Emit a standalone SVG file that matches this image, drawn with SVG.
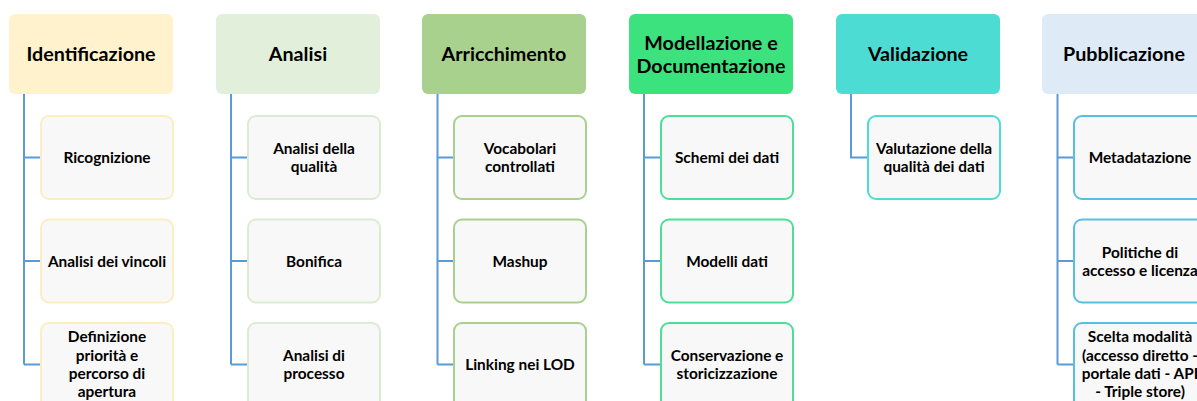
<svg xmlns="http://www.w3.org/2000/svg" width="1197" height="401" viewBox="0 0 1197 401">
<style>
text{font-family:Lato,"Liberation Sans",sans-serif;font-weight:bold;fill:#000;text-anchor:middle}
.h{font-size:19.7px}
.c{font-size:15.4px}
.hb{stroke:none}
.cb{fill:#f8f8f8;stroke-width:2}
.con{fill:none;stroke:#5b9bd5;stroke-width:2}
</style>
<rect width="1197" height="401" fill="#fff"/>
<g id="connectors" class="con">
<path d="M24 94V364.5M24 157.5H41M24 261H41M24 364.5H41"/>
<path d="M231 94V364.5M231 157.5H248M231 261H248M231 364.5H248"/>
<path d="M437.5 94V364.5M437.5 157.5H454M437.5 261H454M437.5 364.5H454"/>
<path d="M644 94V364.5M644 157.5H661M644 261H661M644 364.5H661"/>
<path d="M851 94V157.5H868"/>
<path d="M1057.5 94V364.5M1057.5 157.5H1074M1057.5 261H1074M1057.5 364.5H1074"/>
</g>
<g id="identificazione">
<rect class="hb" x="9" y="14" width="164" height="80" rx="6" fill="#fff2cc"/>
<text class="h" x="91" y="61">Identificazione</text>
</g>
<g id="ricognizione"><rect class="cb" x="41" y="116" width="132" height="83" rx="8" stroke="#fcedc3"/><text class="c" x="107" y="163">Ricognizione</text></g>
<g id="vincoli"><rect class="cb" x="41" y="219.5" width="132" height="83" rx="8" stroke="#fcedc3"/><text class="c" x="107" y="266.5">Analisi dei vincoli</text></g>
<g id="priorita"><rect class="cb" x="41" y="323" width="132" height="90" rx="8" stroke="#fcedc3"/><text class="c" x="107" y="342">Definizione</text><text class="c" x="107" y="360.5">priorità e</text><text class="c" x="107" y="378.5">percorso di</text><text class="c" x="107" y="396.5">apertura</text></g>

<g id="analisi">
<rect class="hb" x="216" y="14" width="164" height="80" rx="6" fill="#e2efda"/>
<text class="h" x="298" y="61">Analisi</text>
</g>
<g id="qualita"><rect class="cb" x="248" y="116" width="132" height="83" rx="8" stroke="#dcecd2"/><text class="c" x="314" y="153.5">Analisi della</text><text class="c" x="314" y="171.5">qualità</text></g>
<g id="bonifica"><rect class="cb" x="248" y="219.5" width="132" height="83" rx="8" stroke="#dcecd2"/><text class="c" x="314" y="266.5">Bonifica</text></g>
<g id="processo"><rect class="cb" x="248" y="323" width="132" height="90" rx="8" stroke="#dcecd2"/><text class="c" x="314" y="361">Analisi di</text><text class="c" x="314" y="379">processo</text></g>

<g id="arricchimento">
<rect class="hb" x="422" y="14" width="164" height="80" rx="6" fill="#a9d18e"/>
<text class="h" x="504" y="61">Arricchimento</text>
</g>
<g id="vocabolari"><rect class="cb" x="454" y="116" width="132" height="83" rx="8" stroke="#a9d18e"/><text class="c" x="520" y="153.5">Vocabolari</text><text class="c" x="520" y="171.5">controllati</text></g>
<g id="mashup"><rect class="cb" x="454" y="219.5" width="132" height="83" rx="8" stroke="#a9d18e"/><text class="c" x="520" y="266.5">Mashup</text></g>
<g id="linking"><rect class="cb" x="454" y="323" width="132" height="90" rx="8" stroke="#a9d18e"/><text class="c" x="520" y="370">Linking nei LOD</text></g>

<g id="modellazione">
<rect class="hb" x="629" y="14" width="164" height="80" rx="6" fill="#3ce27e"/>
<text class="h" x="711" y="49.5">Modellazione e</text>
<text class="h" x="711" y="72.5">Documentazione</text>
</g>
<g id="schemi"><rect class="cb" x="661" y="116" width="132" height="83" rx="8" stroke="#4ddf95"/><text class="c" x="727" y="163">Schemi dei dati</text></g>
<g id="modelli"><rect class="cb" x="661" y="219.5" width="132" height="83" rx="8" stroke="#4ddf95"/><text class="c" x="727" y="266.5">Modelli dati</text></g>
<g id="conservazione"><rect class="cb" x="661" y="323" width="132" height="90" rx="8" stroke="#4ddf95"/><text class="c" x="727" y="361">Conservazione e</text><text class="c" x="727" y="379">storicizzazione</text></g>

<g id="validazione">
<rect class="hb" x="836" y="14" width="164" height="80" rx="6" fill="#4ddcd3"/>
<text class="h" x="918" y="61">Validazione</text>
</g>
<g id="valutazione"><rect class="cb" x="868" y="116" width="132" height="83" rx="8" stroke="#4ddcd3"/><text class="c" x="934" y="153.5">Valutazione della</text><text class="c" x="934" y="171.5">qualità dei dati</text></g>

<g id="pubblicazione">
<rect class="hb" x="1042" y="14" width="164" height="80" rx="6" fill="#deebf7"/>
<text class="h" x="1124" y="61">Pubblicazione</text>
</g>
<g id="metadatazione"><rect class="cb" x="1074" y="116" width="132" height="83" rx="8" stroke="#58bfe0"/><text class="c" x="1140" y="163">Metadatazione</text></g>
<g id="politiche"><rect class="cb" x="1074" y="219.5" width="132" height="83" rx="8" stroke="#58bfe0"/><text class="c" x="1140" y="257.5">Politiche di</text><text class="c" x="1140" y="275.5">accesso e licenza</text></g>
<g id="scelta"><rect class="cb" x="1074" y="323" width="132" height="90" rx="8" stroke="#58bfe0"/><text class="c" x="1140" y="342">Scelta modalità</text><text class="c" x="1140" y="360.5">(accesso diretto -</text><text class="c" x="1140" y="378.5">portale dati - API</text><text class="c" x="1140" y="396.5">- Triple store)</text></g>
</svg>
